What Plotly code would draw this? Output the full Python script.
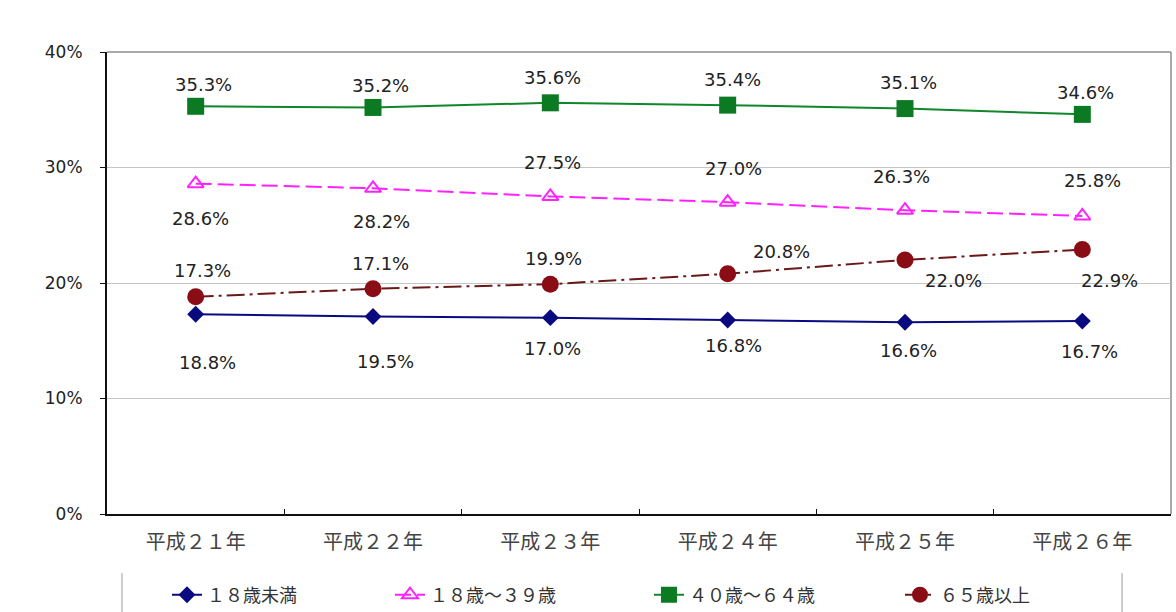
import plotly.graph_objects as go

# Fiscal years (Heisei era)
years = ["平成２１年", "平成２２年", "平成２３年", "平成２４年", "平成２５年", "平成２６年"]

# Share of each age group (%)
under_18 = [17.3, 17.1, 17.0, 16.8, 16.6, 16.7]
age_18_39 = [28.6, 28.2, 27.5, 27.0, 26.3, 25.8]
age_40_64 = [35.3, 35.2, 35.6, 35.4, 35.1, 34.6]
age_65_over = [18.8, 19.5, 19.9, 20.8, 22.0, 22.9]

series_names = ["１８歳未満", "１８歳～３９歳", "４０歳～６４歳", "６５歳以上"]

# Pixel offsets (xshift, yshift) for each value label
label_offsets = {
    "under_18": [(7, 44), (7, 53), (2, -31), (6, -26), (3, -28), (7, -30)],
    "age_18_39": [(5, -35), (8, -33), (2, 34), (6, 34), (-4, 34), (10, 36)],
    "age_40_64": [(8, 22), (7, 22), (2, 25), (5, 26), (3, 26), (3, 22)],
    "age_65_over": [(12, -66), (12, -73), (3, 26), (54, 22), (48, -21), (27, -31)],
}

styles = {
    "under_18": dict(color="#0a0a80", dash="solid", symbol="diamond", size=13,
                     mcolor="#0a0a80", mline=0, width=2, lw=178),
    "age_18_39": dict(color="#ff22ff", dash="16px,6px", symbol="triangle-up-open", size=14,
                      mcolor="#ff22ff", mline=2, width=2, lw=214),
    "age_40_64": dict(color="#11862a", dash="solid", symbol="square", size=17,
                      mcolor="#0b7a22", mline=0, width=2, lw=206),
    "age_65_over": dict(color="#6b1818", dash="18px,5px,3px,5px", symbol="circle", size=17,
                        mcolor="#8a0c14", mline=0, width=2, lw=160),
}

data = {
    "under_18": under_18,
    "age_18_39": age_18_39,
    "age_40_64": age_40_64,
    "age_65_over": age_65_over,
}

fig = go.Figure()
annotations = []
for key, name in zip(data.keys(), series_names):
    s = styles[key]
    vals = data[key]
    fig.add_trace(go.Scatter(
        x=years, y=vals, name=name, mode="lines+markers",
        line=dict(color=s["color"], width=s["width"], dash=s["dash"]),
        marker=dict(symbol=s["symbol"], size=s["size"], color=s["mcolor"],
                    line=dict(width=s["mline"], color=s["mcolor"])),
        legendwidth=s["lw"],
        hoverinfo="skip",
    ))
    for xv, yv, (dx, dy) in zip(years, vals, label_offsets[key]):
        annotations.append(dict(
            x=xv, y=yv, xref="x", yref="y", text=f"{yv:.1f}%",
            showarrow=False, xshift=dx, yshift=dy,
            font=dict(family="DejaVu Sans", size=18, color="#222222"),
        ))

# Plot frame (top / right edges) and legend side rules
shapes = [
    dict(type="line", xref="paper", yref="paper", x0=0, x1=1, y0=1, y1=1,
         line=dict(color="#8c8c8c", width=1.5), layer="below"),
    dict(type="line", xref="paper", yref="paper", x0=1, x1=1, y0=0, y1=1,
         line=dict(color="#8c8c8c", width=1.5), layer="below"),
    dict(type="line", xref="paper", yref="paper", x0=0.0141, x1=0.0141, y0=-0.128, y1=-0.22,
         line=dict(color="#9a9a9a", width=1)),
    dict(type="line", xref="paper", yref="paper", x0=0.954, x1=0.954, y0=-0.128, y1=-0.22,
         line=dict(color="#9a9a9a", width=1)),
]

fig.update_layout(
    width=1176, height=612,
    margin=dict(l=107, r=5, t=52, b=98),
    paper_bgcolor="white", plot_bgcolor="white",
    showlegend=True,
    legend=dict(
        orientation="h", xref="container", yref="container",
        x=0.142, y=0.058, xanchor="left", yanchor="top",
        font=dict(family="Noto Sans CJK JP", size=18, color="#333333"),
        bgcolor="rgba(0,0,0,0)", itemwidth=30,
    ),
    annotations=annotations,
    shapes=shapes,
)

fig.update_xaxes(
    type="category", range=[-0.5, 5.5], showline=True, linecolor="#111111",
    linewidth=2, showgrid=False, ticks="inside", tickson="boundaries", ticklen=5,
    tickcolor="#111111", zeroline=False,
    tickfont=dict(family="Noto Sans CJK JP", size=20, color="#444444"),
    ticklabelstandoff=9,
)
fig.update_yaxes(
    range=[0, 40], dtick=10, ticksuffix="%", showline=True,
    linecolor="#111111", linewidth=2, showgrid=True, gridcolor="#c4c4c4",
    gridwidth=1, ticks="outside", ticklen=5, tickcolor="#111111",
    zeroline=False,
    tickfont=dict(family="DejaVu Sans", size=17, color="#222222"),
    ticklabelstandoff=14,
)

fig.write_html("out.html")
